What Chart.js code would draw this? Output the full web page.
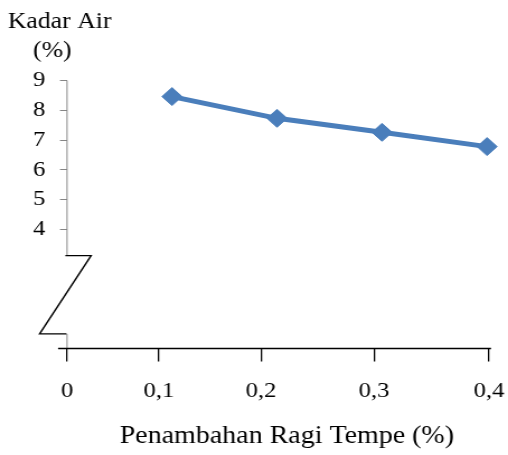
<!DOCTYPE html>
<html>
<head>
<meta charset="utf-8">
<script src="https://cdn.jsdelivr.net/npm/chart.js@4"></script>
<style>
  html, body { margin: 0; padding: 0; background: #fff; overflow: hidden; }
  #wadah { width: 508px; height: 455px; }
  /* teks Times di grafik asli agak melebar, jadi kanvas ditarik sedikit ke samping */
  #grafik { transform: scaleX(1.119); transform-origin: 0 0; }
</style>
</head>
<body>
<div id="wadah"><canvas id="grafik" width="454" height="455"></canvas></div>
<script>
// --- DATA ---
const ragiTempe = [0.1, 0.2, 0.3, 0.4];
const kadarAir = [8.46, 7.73, 7.26, 6.78];
const labelSumbuX = ['0', '0,1', '0,2', '0,3', '0,4'];
const tickSumbuY = [4, 5, 6, 7, 8, 9];

const BIRU = '#4a7ebb';
const ABU = '#868686';
const HURUF = '"Liberation Serif", "Times New Roman", serif';

// posisi garis tick sumbu X (dalam satuan sumbu)
const posisiTickX = [0, 0.0876, 0.1848, 0.2924, 0.4019];

// sumbu Y dengan potongan zig-zag, sumbu X, dan judul sumbu
const sumbuPatah = {
    id: 'sumbuPatah',
    beforeDatasetsDraw(chart, args, opts) {
        const { ctx, chartArea } = chart;
        const ys = chart.scales.y;
        const x0 = chartArea.left;
        const yAtas = ys.getPixelForValue(ys.max);
        const yPatahAtas = ys.getPixelForValue(opts.patahAtas);
        const yPatahBawah = ys.getPixelForValue(opts.patahBawah);
        const yBawah = chartArea.bottom;

        ctx.save();
        // garis sumbu Y (abu-abu)
        ctx.strokeStyle = ABU;
        ctx.lineWidth = 1;
        ctx.beginPath();
        ctx.moveTo(x0, yAtas);
        ctx.lineTo(x0, yPatahAtas);
        ctx.moveTo(x0, yPatahBawah);
        ctx.lineTo(x0, yBawah);
        ctx.stroke();

        // tanda potong
        ctx.strokeStyle = '#000';
        ctx.lineWidth = 1.4;
        ctx.beginPath();
        ctx.moveTo(x0 - 1.5, yPatahAtas);
        ctx.lineTo(x0 + 21.5, yPatahAtas);
        ctx.lineTo(x0 - 24.5, yPatahBawah);
        ctx.lineTo(x0 - 0.5, yPatahBawah);
        ctx.stroke();

        // garis sumbu X
        ctx.lineWidth = 1.6;
        ctx.beginPath();
        ctx.moveTo(x0 - 8, yBawah);
        ctx.lineTo(chartArea.right, yBawah);
        ctx.stroke();
        ctx.restore();
    },
    afterDraw(chart) {
        const { ctx, chartArea } = chart;
        ctx.save();
        ctx.fillStyle = '#000';
        ctx.textBaseline = 'alphabetic';
        ctx.textAlign = 'left';
        ctx.font = '23px ' + HURUF;
        ctx.fillText('Kadar Air', 7, 28);
        ctx.fillText('(%)', 29.5, 57);
        ctx.textAlign = 'center';
        ctx.font = '25px ' + HURUF;
        ctx.fillText('Penambahan Ragi Tempe (%)', (chartArea.left + chartArea.right) / 2 + 7, 443);
        ctx.restore();
    }
};

new Chart(document.getElementById('grafik'), {
    type: 'line',
    data: {
        datasets: [{
            label: 'Kadar Air',
            data: ragiTempe.map((x, i) => ({ x: x, y: kadarAir[i] })),
            borderColor: BIRU,
            backgroundColor: BIRU,
            borderWidth: 5,
            pointStyle: 'rectRot',
            pointRadius: 9,
            pointBorderWidth: 1,
            pointBackgroundColor: BIRU,
            pointBorderColor: BIRU,
            tension: 0,
            clip: false
        }]
    },
    options: {
        responsive: false,
        animation: false,
        events: [],
        layout: { padding: { top: 80.5, left: 0, right: 15.2, bottom: 0 } },
        plugins: {
            legend: { display: false },
            tooltip: { enabled: false },
            sumbuPatah: { patahAtas: 3.12, patahBawah: 0.49 }
        },
        scales: {
            x: {
                type: 'linear',
                min: 0,
                max: 0.4038,
                border: { display: false },
                grid: { drawOnChartArea: false, drawTicks: true, tickLength: 13, color: '#000', lineWidth: 1.3 },
                afterBuildTicks: (s) => { s.ticks = posisiTickX.map(v => ({ value: v })); },
                afterFit: (s) => {
                    s.height = 106.5;
                    s.paddingLeft = 0;
                    s.paddingRight = 0;
                },
                ticks: {
                    autoSkip: false,
                    maxRotation: 0,
                    padding: 17,
                    color: '#000',
                    font: { family: HURUF, size: 22 },
                    callback: (v, i) => labelSumbuX[i]
                }
            },
            y: {
                min: 0,
                max: 9,
                border: { display: false },
                grid: { drawOnChartArea: false, drawTicks: true, tickLength: 6.3, color: ABU, lineWidth: 1 },
                afterBuildTicks: (s) => { s.ticks = tickSumbuY.map(v => ({ value: v })); },
                afterFit: (s) => { s.width = 59.9; },
                ticks: {
                    padding: 13,
                    color: '#000',
                    font: { family: HURUF, size: 22 },
                    callback: (v) => String(v)
                }
            }
        }
    },
    plugins: [sumbuPatah]
});
</script>
</body>
</html>
